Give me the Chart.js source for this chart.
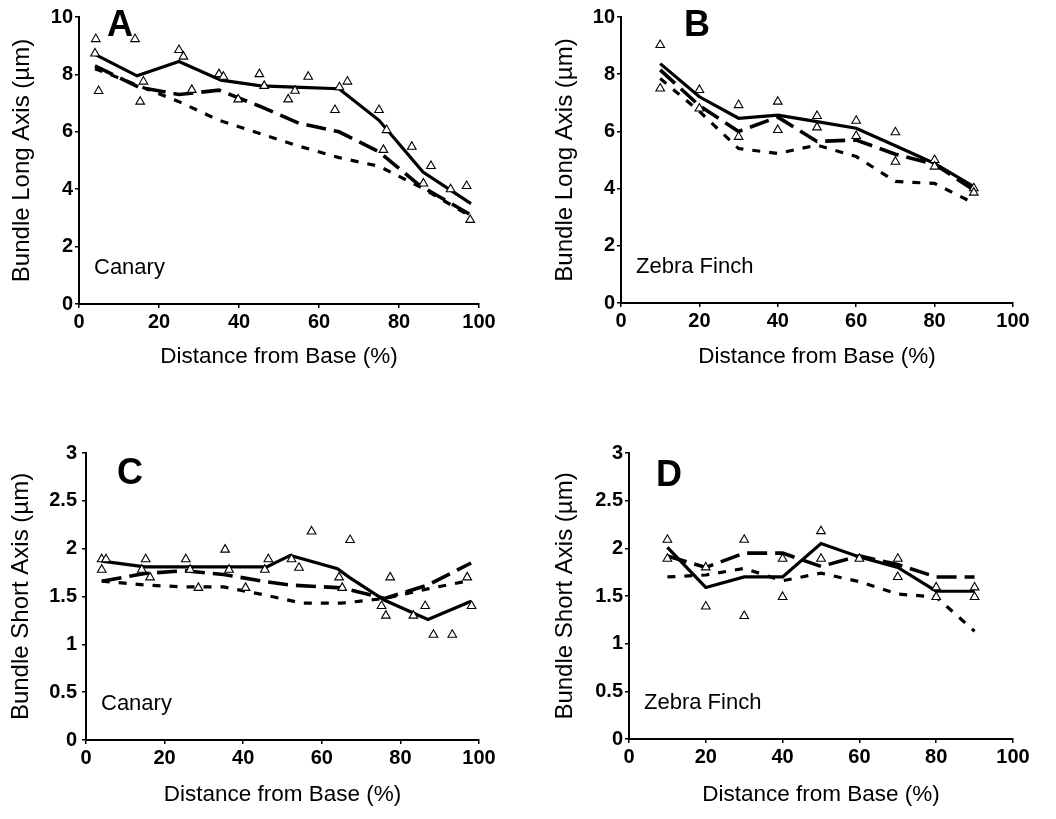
<!DOCTYPE html>
<html>
<head>
<meta charset="utf-8">
<script src="https://cdn.jsdelivr.net/npm/chart.js@4/dist/chart.umd.min.js"></script>
<style>
  body { margin: 0; background: #fff; }
  #wrap { position: relative; width: 1056px; height: 819px; overflow: hidden; }
  canvas { position: absolute; }
</style>
</head>
<body>
<div id="wrap">
  <canvas id="panelA" width="528" height="410" style="left:0;top:0;width:528px;height:410px"></canvas>
  <canvas id="panelB" width="528" height="410" style="left:528px;top:0;width:528px;height:410px"></canvas>
  <canvas id="panelC" width="528" height="409" style="left:0;top:410px;width:528px;height:409px"></canvas>
  <canvas id="panelD" width="528" height="409" style="left:528px;top:410px;width:528px;height:409px"></canvas>
</div>
<script>
// tick labels
const xTicks = [0, 20, 40, 60, 80, 100];
const longTicks = [0, 2, 4, 6, 8, 10];
const shortTicks = [0, 0.5, 1, 1.5, 2, 2.5, 3];

// A - canary, long axis  ([distance %, µm])
const canaryLongPts = [[4.2,9.23],[4,8.73],[4.9,7.42],[14,9.23],[16.1,7.75],[15.3,7.05],[25,8.85],[26.1,8.62],
  [28.2,7.46],[35,8.01],[36.1,7.92],[39.8,7.13],[45.1,8.01],[46.3,7.6],[52.3,7.13],[54,7.43],[57.3,7.92],
  [64,6.76],[65.1,7.55],[67.1,7.75],[75,6.76],[76.9,6.06],[76.1,5.37],[83.2,5.48],[86.1,4.2],[88,4.81],
  [92.9,4.0],[96.9,4.11],[97.8,2.93]];
const canaryLongSolid = [[4,8.7],[14.5,7.95],[25,8.45],[35.5,7.8],[45.5,7.6],[55.5,7.55],[65,7.5],[75,6.4],[86,4.6],[98,3.5]];
const canaryLongDash = [[4,8.3],[15,7.55],[25,7.3],[35,7.45],[45,6.9],[55,6.3],[65,6.0],[75,5.3],[85,4.15],[98,3.1]];
const canaryLongDot = [[4,8.2],[15,7.6],[25,7.05],[35,6.4],[45,5.95],[55,5.5],[65,5.1],[75,4.8],[85,4.1],[98,3.05]];

// B - zebra finch, long axis
const finchLongPts = [[10,9.02],[10,7.5],[20,7.45],[20,6.8],[30,6.92],[30,5.81],[40,7.04],[40,6.05],[50,6.54],
  [50,6.14],[60,6.37],[60,5.84],[70,5.97],[70,4.94],[80,5.0],[80,4.77],[90,4.01],[90,3.86]];
const finchLongSolid = [[10,8.37],[20,7.21],[30,6.46],[40,6.57],[50,6.34],[60,6.11],[70,5.5],[80,4.88],[90,4.07]];
const finchLongDash = [[10,8.15],[20,6.9],[30,6.0],[40,6.5],[50,5.65],[60,5.7],[70,5.2],[80,4.85],[90,3.95]];
const finchLongDot = [[10,7.85],[20,6.7],[30,5.4],[40,5.23],[50,5.52],[60,5.12],[70,4.25],[80,4.18],[90,3.49]];

// C - canary, short axis
const canaryShortPts = [[4,1.89],[5.1,1.89],[4,1.78],[14.2,1.78],[15.2,1.89],[16.3,1.7],[25.4,1.89],[26.5,1.78],
  [28.6,1.59],[35.4,1.99],[36.4,1.78],[40.6,1.59],[45.5,1.78],[46.4,1.89],[52.3,1.89],[54.2,1.8],[57.4,2.18],
  [64.4,1.7],[65.2,1.59],[67.2,2.09],[75.2,1.4],[76.3,1.3],[77.4,1.7],[83.3,1.3],[86.3,1.4],[88.4,1.1],
  [93.2,1.1],[97,1.7],[98.1,1.4]];
const canaryShortSolid = [[4,1.87],[15,1.81],[25,1.81],[35,1.81],[46,1.81],[52,1.93],[64,1.79],[67,1.7],[76,1.46],[87,1.26],[98,1.45]];
const canaryShortDash = [[4,1.66],[15,1.74],[25,1.77],[35,1.73],[45,1.66],[52,1.62],[65,1.59],[76,1.48],[87,1.62],[98,1.85]];
const canaryShortDot = [[4,1.66],[15,1.62],[25,1.6],[35,1.6],[45,1.52],[55,1.43],[65,1.43],[76,1.48],[87,1.58],[98,1.67]];

// D - zebra finch, short axis
const finchShortPts = [[10,2.09],[10,1.89],[20,1.8],[20,1.39],[30,2.09],[30,1.29],[40,1.89],[40,1.49],[50,2.18],
  [50,1.89],[60,1.89],[70,1.89],[70,1.7],[80,1.59],[80,1.49],[90,1.59],[90,1.49]];
const finchShortSolid = [[10,2.01],[20,1.59],[30,1.7],[40,1.7],[50,2.05],[60,1.91],[70,1.8],[80,1.55],[90,1.55]];
const finchShortDash = [[10,1.92],[20,1.8],[30,1.95],[40,1.95],[50,1.81],[60,1.92],[70,1.83],[80,1.7],[90,1.7]];
const finchShortDot = [[10,1.7],[20,1.72],[30,1.79],[40,1.66],[50,1.74],[60,1.65],[70,1.52],[80,1.49],[90,1.13]];

const FONT = '"Liberation Sans", Arial, Helvetica, sans-serif';
Chart.defaults.font.family = FONT;
Chart.defaults.color = '#000';

const toXY = arr => arr.map(p => ({ x: p[0], y: p[1] }));

// letter + species name, placed relative to the plot area
const panelText = {
  id: 'panelText',
  afterDraw(chart, args, o) {
    const { ctx, chartArea: a } = chart;
    ctx.save();
    ctx.fillStyle = '#000';
    ctx.textAlign = 'left';
    ctx.textBaseline = 'alphabetic';
    ctx.font = 'bold 36px ' + FONT;
    ctx.fillText(o.letter, a.left + o.letterDx, a.top + o.letterDy);
    ctx.font = '22px ' + FONT;
    ctx.fillText(o.species, a.left + o.speciesDx, a.bottom + o.speciesDy);
    ctx.restore();
  }
};

function makePanel(id, s) {
  const line = (data, dash, w) => ({
    data: toXY(data), showLine: true, borderColor: '#000', borderWidth: w,
    borderDash: dash, pointRadius: 0, order: 1
  });
  new Chart(document.getElementById(id), {
    type: 'scatter',
    data: {
      datasets: [
        { data: toXY(s.pts), pointStyle: 'triangle', pointRadius: 5, pointBackgroundColor: '#fff',
          pointBorderColor: '#000', pointBorderWidth: 1.1, showLine: false, order: 0 },
        line(s.solid, [], 3.2),
        line(s.dash, [20, 8], 3.6),
        line(s.dot, [8, 9], 3.2)
      ]
    },
    plugins: [panelText],
    options: {
      responsive: false,
      animation: false,
      layout: { padding: { left: 0, top: s.top, right: s.right, bottom: 0 } },
      plugins: {
        legend: { display: false },
        tooltip: { enabled: false },
        panelText: { letter: s.letter, letterDx: s.letterDx, letterDy: s.letterDy,
                     species: s.species, speciesDx: 15, speciesDy: -30 }
      },
      scales: {
        x: {
          type: 'linear', min: 0, max: 100,
          afterBuildTicks: sc => { sc.ticks = xTicks.map(v => ({ value: v })); },
          afterFit: sc => { sc.height = s.xH; },
          ticks: { font: { size: 20, weight: 'bold' }, padding: 2, maxRotation: 0, autoSkip: false, callback: v => String(v) },
          grid: { drawOnChartArea: false, tickLength: 4, color: '#000', lineWidth: 1.5 },
          border: { color: '#000', width: 2 },
          title: { display: true, text: 'Distance from Base (%)', font: { size: 22.5 },
                   padding: { top: 0, bottom: s.xTitlePad } }
        },
        y: {
          type: 'linear', min: 0, max: s.yTicks[s.yTicks.length - 1],
          afterBuildTicks: sc => { sc.ticks = s.yTicks.map(v => ({ value: v })); },
          afterFit: sc => { sc.width = s.yW; },
          ticks: { font: { size: 20, weight: 'bold' }, padding: s.yTickPad, callback: v => String(v) },
          grid: { drawOnChartArea: false, tickLength: 4, color: '#000', lineWidth: 1.5 },
          border: { color: '#000', width: 2 },
          title: { display: true, text: s.yTitle, font: { size: 24 },
                   padding: { top: s.yTitlePad, bottom: 0 } }
        }
      }
    }
  });
}

makePanel('panelA', {
  pts: canaryLongPts, solid: canaryLongSolid, dash: canaryLongDash, dot: canaryLongDot,
  yTicks: longTicks, yTitle: 'Bundle Long Axis (µm)', letter: 'A', species: 'Canary',
  letterDx: 28, letterDy: 19, top: 17, right: 49, xH: 106, yW: 79, yTickPad: 2, xTitlePad: 40, yTitlePad: 8
});
makePanel('panelB', {
  pts: finchLongPts, solid: finchLongSolid, dash: finchLongDash, dot: finchLongDot,
  yTicks: longTicks, yTitle: 'Bundle Long Axis (µm)', letter: 'B', species: 'Zebra Finch',
  letterDx: 63, letterDy: 19, top: 17, right: 43, xH: 107, yW: 93, yTickPad: 2, xTitlePad: 40, yTitlePad: 23
});
makePanel('panelC', {
  pts: canaryShortPts, solid: canaryShortSolid, dash: canaryShortDash, dot: canaryShortDot,
  yTicks: shortTicks, yTitle: 'Bundle Short Axis (µm)', letter: 'C', species: 'Canary',
  letterDx: 31, letterDy: 31, top: 43, right: 49, xH: 79, yW: 86, yTickPad: 5, xTitlePad: 11, yTitlePad: 7
});
makePanel('panelD', {
  pts: finchShortPts, solid: finchShortSolid, dash: finchShortDash, dot: finchShortDot,
  yTicks: shortTicks, yTitle: 'Bundle Short Axis (µm)', letter: 'D', species: 'Zebra Finch',
  letterDx: 27, letterDy: 33, top: 43, right: 43, xH: 80, yW: 101, yTickPad: 2, xTitlePad: 11, yTitlePad: 23
});
</script>
</body>
</html>
